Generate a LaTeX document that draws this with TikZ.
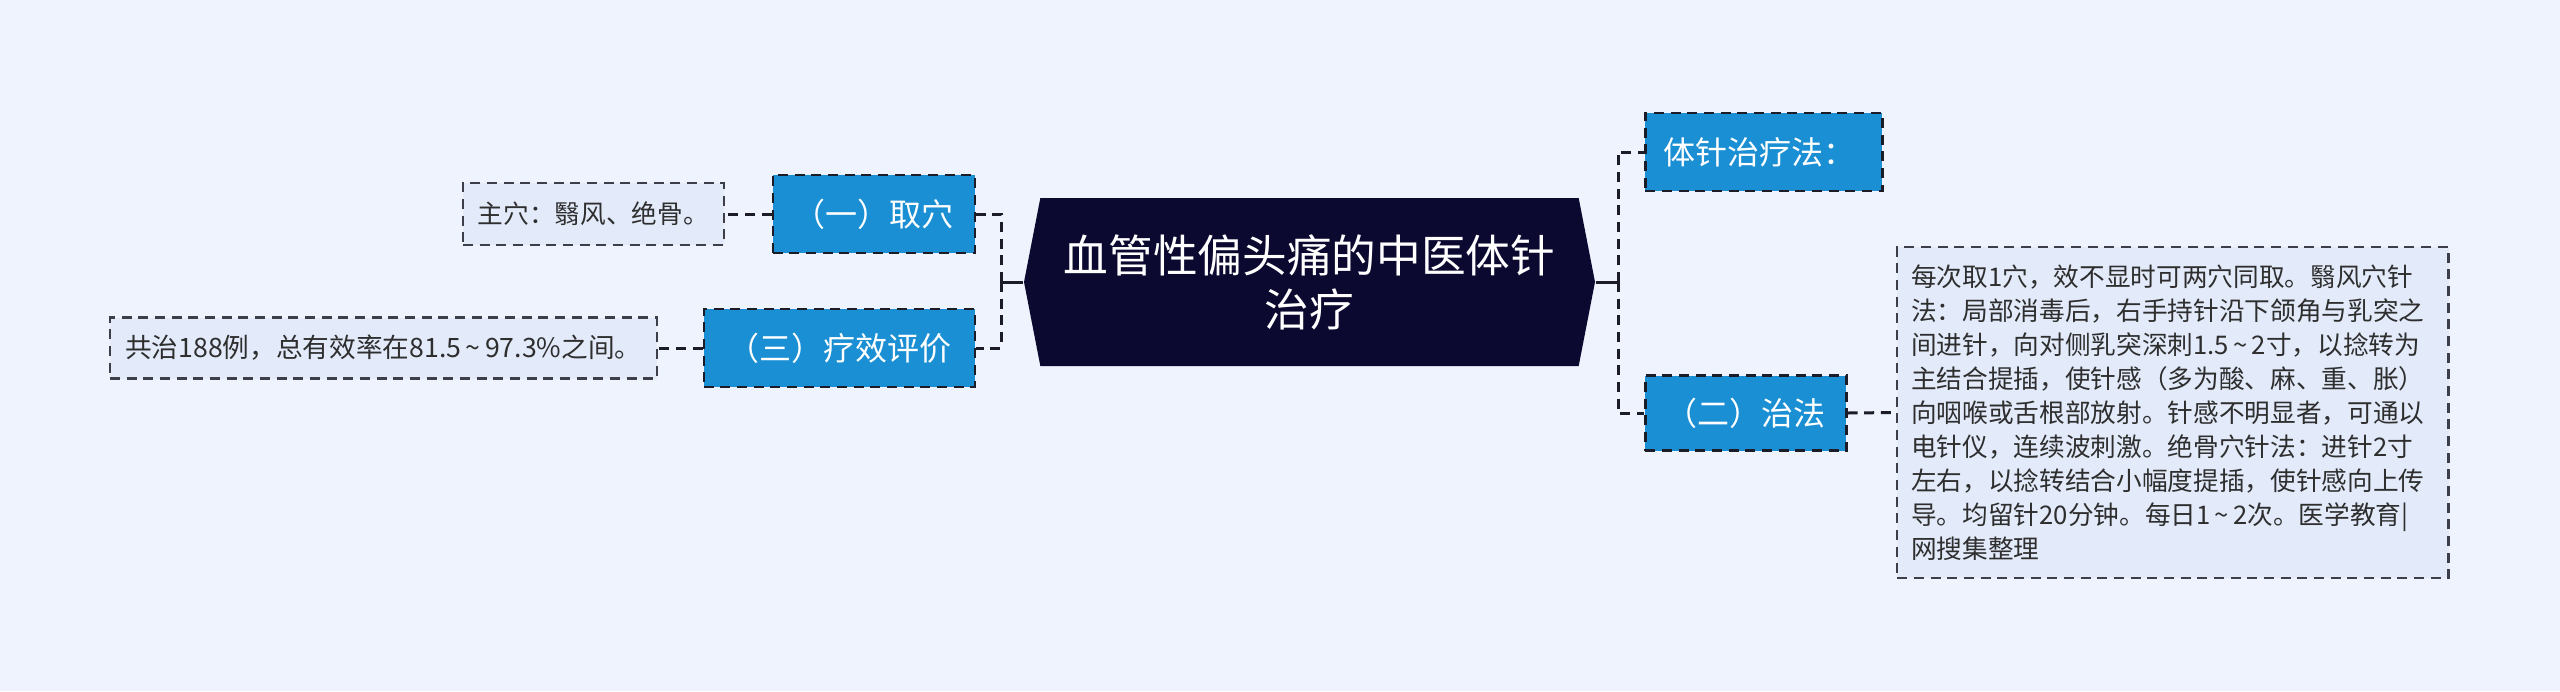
\documentclass[tikz,border=0pt]{standalone}
\usepackage{fontspec}
\newfontfamily\cjk{Noto Sans CJK SC}
\usetikzlibrary{shapes.symbols}
\definecolor{pagebg}{HTML}{EEF3FD}
\definecolor{rootfill}{HTML}{0B0930}
\definecolor{topicblue}{HTML}{1B8FD3}
\definecolor{leaffill}{HTML}{E3EBFA}
\definecolor{linecol}{HTML}{1C1C28}
\definecolor{textcol}{HTML}{2E2E2E}
\newcommand{\rng}{\,\textasciitilde\,}
\begin{document}
\begin{tikzpicture}[x=0.3pt, y=-0.3pt,
	rootnode/.style={shape=signal, signal to=west and east, signal pointer angle=158, fill=rootfill, text=white, align=center, inner sep=0pt, minimum width=171.3pt, minimum height=50.4pt, font=\cjk\fontsize{13.4}{16.2}\selectfont},
	topic/.style={draw=linecol, fill=topicblue, text=white, line width=0.75pt, dash pattern=on 3pt off 2pt, minimum height=23.4pt, inner sep=0pt, font=\cjk\fontsize{9.6}{12}\selectfont},
	leaf/.style={draw=linecol!85, fill=leaffill, text=textcol, line width=0.7pt, dash pattern=on 3pt off 2pt, inner sep=0pt, font=\cjk\fontsize{7.7}{10.2}\selectfont},
	stem/.style={draw=linecol, line width=0.9pt},
	link/.style={draw=linecol, line width=0.9pt, dash pattern=on 3pt off 2pt}]
	
	\fill [pagebg] (0, 0) rectangle (2560, 691);
	\useasboundingbox (0, 0) rectangle (2560, 691);
	
	\node [rootnode] (root) at (1309.5, 282) {血管性偏头痛的中医体针\\治疗};
	
	% right side
	\node [topic, anchor=west, text width=60.3pt, inner xsep=5.4pt, align=left] (zhenfa) at (1644, 152) {体针治疗法：};
	\node [topic, anchor=west, minimum width=60.3pt, minimum height=22.5pt] (zhifa) at (1644, 413) {（二）治法};
	\node [leaf, anchor=west, text width=157pt, inner xsep=4.2pt, minimum height=99.3pt, align=left] (zhifatext) at (1896, 412.5) {每次取1穴，效不显时可两穴同取。翳风穴针\\法：局部消毒后，右手持针沿下颌角与乳突之\\间进针，向对侧乳突深刺1.5\rng 2寸，以捻转为\\主结合提插，使针感（多为酸、麻、重、胀）\\向咽喉或舌根部放射。针感不明显者，可通以\\电针仪，连续波刺激。绝骨穴针法：进针2寸\\左右，以捻转结合小幅度提插，使针感向上传\\导。均留针20分钟。每日1\rng 2次。医学教育|\\网搜集整理};
	
	% left side
	\node [topic, anchor=east, minimum width=60.6pt] (quxue) at (976, 214) {（一）取穴};
	\node [topic, anchor=east, minimum width=81.3pt] (liaoxiao) at (976, 348) {（三）疗效评价};
	\node [leaf, anchor=east, minimum width=78.3pt, minimum height=18.6pt] (quxuetext) at (725, 214) {主穴：翳风、绝骨。};
	\node [leaf, anchor=east, minimum width=164.1pt, minimum height=18.3pt, font=\cjk\fontsize{8}{10.2}\selectfont] (liaoxiaotext) at (658, 348) {共治188例，总有效率在81.5\rng 97.3\%之间。};
	
	\coordinate (rspine) at (1618, 282);
	\coordinate (lspine) at (1001, 282);
	
	\draw [stem] (root.east) -- (rspine);
	\draw [stem] (root.west) -- (lspine);
	\draw [link] (rspine) |- (zhenfa.west);
	\draw [link] (rspine) |- (zhifa.west);
	\draw [link] (lspine) |- (quxue.east);
	\draw [link] (lspine) |- (liaoxiao.east);
	\draw [link] (zhifa.east) -- (zhifatext.west);
	\draw [link] (quxue.west) -- (quxuetext.east);
	\draw [link] (liaoxiao.west) -- (liaoxiaotext.east);
	
\end{tikzpicture}
\end{document}
